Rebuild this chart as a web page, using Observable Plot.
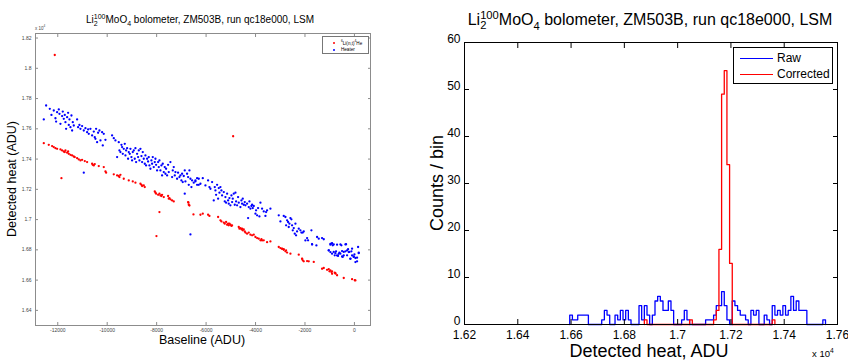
<!DOCTYPE html>
<html><head><meta charset="utf-8">
<script src="https://cdn.jsdelivr.net/npm/d3@7"></script>
<script src="https://cdn.jsdelivr.net/npm/@observablehq/plot@0.6"></script>
<style>
body{margin:0;background:#fff;width:848px;height:360px;overflow:hidden;font-family:"Liberation Sans",Arial,sans-serif;color:#000;}
#wrap{position:relative;width:848px;height:360px;}
.abs{position:absolute;white-space:nowrap;line-height:1;}
.chart{position:absolute;top:0;}
.iso{display:inline-block;position:relative;}
.iso .sp{font-size:0.7em;position:relative;top:-0.55em;}
.iso .sb{font-size:0.7em;position:absolute;left:0;top:0.75em;}
.sb2{font-size:0.7em;position:relative;top:0.45em;}
</style></head><body><div id="wrap"></div>
<script>
// ---------- Left panel: detected heat vs baseline ----------
const heaterPoints = [
[-12470,17754],[-12565,17662],[-12322,17732],[-12255,17692],[-12161,17721],[-12093,17670],[-12066,17648],[-12026,17710],[-11958,17728],[-11931,17699],[-11891,17633],[-11824,17684],[-11797,17714],[-11756,17666],[-11716,17692],[-11689,17644],[-11662,17600],[-11621,17677],[-11581,17706],[-11554,17626],[-11527,17662],[-11487,17611],[-11446,17688],[-11419,17589],[-11392,17644],[-11352,17622],[-11217,17662],[-11177,17611],[-11123,17626],[-11082,17600],[-11015,17618],[-10947,17589],[-10880,17604],[-10813,17578],[-10772,17596],[-10745,17567],[-10678,17600],[-10610,17556],[-10543,17582],[-10503,17545],[-10476,17534],[-10449,17600],[-10408,17512],[-10368,17574],[-10314,17589],[-10273,17523],[-10206,17578],[-10179,17490],[-10139,17567],[-10071,17527],
[-9802,17556],[-9734,17538],[-9667,17523],[-9599,17413],[-9532,17512],[-9505,17457],[-9465,17446],[-9424,17494],[-9397,17479],[-9370,17435],[-9330,17468],[-9289,17501],[-9262,17424],[-9235,17457],[-9195,17472],[-9155,17402],[-9128,17446],[-9087,17435],[-9060,17468],[-9020,17413],[-8993,17391],[-8966,17446],[-8925,17457],[-8885,17402],[-8858,17472],[-8831,17380],[-8791,17435],[-8750,17413],[-8723,17457],[-8696,17391],[-8656,17468],[-8615,17420],[-8588,17380],[-8561,17446],[-8521,17402],[-8480,17369],[-8454,17424],[-8427,17358],[-8386,17402],[-8346,17384],[-8319,17413],[-8292,17358],[-8251,17336],[-8211,17391],[-8184,17369],[-8157,17413],[-8117,17347],[-8076,17380],[-8049,17402],[-8022,17362],[-7982,17325],[-7941,17380],[-7914,17347],[-7887,17391],[-7847,17325],[-7807,17358],[-7780,17292],[-7753,17369],[-7712,17314],[-7672,17347],[-7645,17303],[-7618,17336],[-7577,17292],[-7537,17362],[-7510,17314],[-7443,17380],[-7375,17281],[-7348,17325],[-7308,17347],[-7267,17292],[-7240,17314],[-7173,17270],[-7133,17310],[-7079,17281],[-7038,17292],[-6998,17259],[-6971,17303],[-6944,17248],[-6904,17288],[-6863,17325],[-6836,17252],[-6769,17303],[-6728,17281],[-6701,17230],[-6674,17325],[-6634,17270],[-6593,17215],[-6566,17259],[-6499,17244],[-6432,17252],[-6364,17274],[-6297,17230],[-6229,17237],[-6863,17171],
[-10947,17310],[-6633,16902],
[-6431,17259],[-6364,17230],[-6296,17270],[-6134,17274],[-6027,17226],[-5919,17259],[-5865,17215],[-5824,17204],[-5757,17248],[-5690,17127],[-5649,17215],[-5622,17193],[-5595,17164],[-5555,17230],[-5514,17138],[-5487,17208],[-5460,17178],[-5420,17215],[-5380,17193],[-5353,17160],[-5285,17182],[-5245,17120],[-5218,17149],[-5191,17112],[-5150,17171],[-5110,17127],[-5083,17105],[-5056,17142],[-5016,17094],[-4975,17160],[-4948,17116],[-4921,17138],[-4881,17171],[-4840,17098],[-4813,17178],[-4786,17120],[-4746,17094],[-4706,17149],[-4679,17112],[-4611,17083],[-4571,17127],[-4544,17105],[-4517,17138],[-4476,17098],[-4436,17116],[-4409,17094],[-4342,17105],[-4301,17010],[-4274,17083],[-4247,17120],[-4207,17072],[-4166,17090],[-4139,17098],[-4112,17076],[-4072,17090],[-4005,17039],[-3978,17061],[-3937,17028],[-3897,17076],[-3843,17021],[-3802,17112],[-3735,17072],[-3668,17054],[-3600,17024],[-3573,17050],[-3533,17061],[-3398,17072],[-3061,17028],[-2994,16988],[-2859,17024],[-2791,17017],[-2764,16962],[-2724,16995],[-2684,16984],[-2657,16951],[-2630,16973],[-2589,17010],[-2549,17002],[-2522,16962],[-2495,16929],[-2454,16944],[-2414,16907],[-2387,16973],[-2360,16896],[-2320,16922],[-2252,16940],[-2185,16929],[-2145,16914],[-2090,16914],[-2050,16922],[-1915,16878],[-1875,16863],[-1740,16929],[-1713,16837],[-1511,16885],[-1443,16874],[-1309,16878],[-1241,16870],[-1039,16797],[-972,16834],[-931,16841],[-904,16775],[-877,16830],[-837,16786],[-797,16764],[-743,16790],[-702,16834],[-662,16760],[-608,16782],[-568,16775],[-527,16830],[-473,16753],[-432,16786],[-365,16790],[-338,16837],[-297,16764],[-257,16804],[-203,16786],[-163,16742],[-122,16790],[-95,16808],[-28,16753],[40,16746],[107,16724],[175,16782],[148,16819],
[-1983,16862],[-1713,16836],[-1538,16829],[-972,16840],[-904,16844],[-837,16836],[-1039,16796],[-972,16785],[-770,16778],[-635,16774],[-567,16836],[-500,16792],[-365,16836],[-298,16796],[-230,16785],[-163,16741],[-95,16763],[-28,16756],[0,16770],[40,16719],[174,16778],[107,16748],[-500,16756],[-433,16763],[-702,16763]
];
const neutronPoints = [
[-12565,17505],[-12363,17494],[-12228,17486],[-12161,17479],[-12093,17472],[-12026,17468],[-11891,17464],[-11824,17457],[-11756,17450],[-11716,17446],[-11689,17457],[-11621,17442],[-11581,17450],[-11554,17435],[-11487,17428],[-11419,17424],[-11352,17417],[-11311,17413],[-11217,17406],[-11150,17398],[-11082,17391],[-11015,17395],[-10907,17387],[-10813,17380],[-10610,17369],[-10584,17362],[-10543,17358],[-10503,17367],[-10341,17354],[-10139,17347],[-10071,17318],[-10044,17310],[-9734,17299],[-9599,17292],[-9532,17288],[-9505,17281],[-9465,17296],[-9330,17270],[-9128,17259],[-8966,17252],[-8858,17244],[-8656,17237],[-8615,17230],[-8588,17222],[-8521,17226],[-8480,17215],[-8076,17186],[-8049,17178],[-8022,17171],[-7941,17164],[-7887,17171],[-7847,17160],[-7807,17156],[-7780,17164],[-7712,17149],[-7537,17156],[-7510,17138],[-7483,17142],[-7443,17134],[-7375,17127],[-7308,17120],[-6728,17116],[-6701,17098],[-6714,17112],[-6673,17093],
[-6229,17032],[-6134,17039],[-5919,17032],[-5865,17024],[-5514,17017],[-5420,16995],[-5380,16988],[-5285,16980],[-5245,16973],[-5191,16984],[-5150,16966],[-5110,16973],[-5083,16962],[-5056,16973],[-5016,16966],[-4975,16958],[-4948,16962],[-4679,16951],[-4652,16940],[-4611,16944],[-4571,16936],[-4544,16940],[-4517,16929],[-4476,16936],[-4436,16922],[-4409,16914],[-4342,16907],[-4274,16914],[-4207,16900],[-4139,16896],[-4072,16900],[-4005,16885],[-3937,16878],[-3870,16874],[-3802,16863],[-3762,16870],[-3668,16863],[-3398,16856],[-3061,16819],[-2994,16812],[-2926,16808],[-2859,16804],[-2791,16790],[-2764,16797],[-2724,16782],[-2589,16775],[-2252,16768],[-2117,16742],[-2090,16731],[-2050,16724],[-1848,16724],[-1645,16720],[-1241,16680],[-1039,16672],[-1012,16658],[-972,16665],[-931,16654],[-904,16658],[-797,16650],[-769,16643],[-702,16632],[-432,16614],[-95,16606],[13,16599],
[-3735,16862],[-3533,16851],[-2926,16807],[-2859,16800],[-2117,16741],[-1915,16726],[-1309,16675],[-1107,16668],[-904,16642],[-770,16646],[40,16598],
[-12121,18088],[-4906,17551],[-11851,17274],[-8008,16891],[-7887,17050],[-6511,17034]
];
const baselineTicks = [-12000,-10000,-8000,-6000,-4000,-2000,0];
const heatTicks = [16400,16600,16800,17000,17200,17400,17600,17800,18000,18200];

// ---------- Right panel: histograms ----------
const binStart = 16595;   // left edge of first bin (ADU)
const binWidth = 10;      // ADU per bin
const rawCounts = [2,1,1,2,2,2,2,0,0,0,0,0,1,3,2,0,0,2,1,3,1,3,1,0,0,0,4,1,4,2,0,2,5,6,5,3,3,5,3,0,0,0,1,3,1,0,0,0,0,0,0,1,1,1,2,4,4,7,4,1,0,5,4,3,2,2,1,0,3,2,3,0,0,2,1,0,4,2,3,2,4,2,3,6,3,5,3,3,3,0,0,0,0,0,0,1];
const corrStart = 16875;  // left edge of first corrected bin
const correctedCounts = [1,0,0,0,0,0,0,0,0,0,0,0,0,0,0,0,0,1,0,0,0,0,0,0,0,0,1,3,16,49,54,34,13,0,0,0,0,0,0,0,0,0,0,0,0,0,0,0,1];
const heatAxisTicks = [16200,16400,16600,16800,17000,17200,17400,17600];
const countTicks = [0,10,20,30,40,50,60];

const font = "Liberation Sans, Arial, Helvetica, sans-serif";
const fmt4 = d => String(+(d / 1e4).toFixed(2));
const wrap = document.getElementById("wrap");

const left = Plot.plot({
  width: 400, height: 360,
  marginLeft: 35, marginRight: 30, marginTop: 33, marginBottom: 35,
  x: {domain: [-12900, 650]},
  y: {domain: [16300, 18230]},
  style: {fontFamily: font, fontSize: "5px", background: "transparent", color: "#444"},
  marks: [
    Plot.dot(neutronPoints, {x: d => d[0], y: d => d[1], r: 1.15, fill: "#ff0000"}),
    Plot.dot(heaterPoints, {x: d => d[0], y: d => d[1], r: 1.15, fill: "#0000ff"}),
    Plot.frame({stroke: "#8c8c8c"}),
    Plot.axisX(baselineTicks, {anchor: "bottom", tickSize: -3, fill: "none", stroke: "#8c8c8c", label: null}),
    Plot.axisX(baselineTicks, {anchor: "top", tickSize: -3, fill: "none", stroke: "#8c8c8c", label: null}),
    Plot.axisX(baselineTicks, {anchor: "bottom", tickSize: 0, tickPadding: 3, fill: "#444", label: null, tickFormat: d => String(d)}),
    Plot.axisY(heatTicks, {anchor: "left", tickSize: -3, fill: "none", stroke: "#8c8c8c", label: null}),
    Plot.axisY(heatTicks, {anchor: "right", tickSize: -3, fill: "none", stroke: "#8c8c8c", label: null}),
    Plot.axisY(heatTicks, {anchor: "left", tickSize: 0, tickPadding: 4, fill: "#444", label: null, tickFormat: fmt4})
  ]
});
left.classList.add("chart");
left.style.left = "0px";
wrap.appendChild(left);

function steps(start, width, counts) {
  const pts = [{x: start, y: 0}];
  counts.forEach((c, i) => {
    pts.push({x: start + i * width, y: c});
    pts.push({x: start + (i + 1) * width, y: c});
  });
  pts.push({x: start + counts.length * width, y: 0});
  return pts;
}

const right = Plot.plot({
  width: 448, height: 360,
  marginLeft: 64, marginRight: 11, marginTop: 42, marginBottom: 36,
  x: {domain: [16200, 17600]},
  y: {domain: [0, 60]},
  style: {fontFamily: font, fontSize: "12px", background: "transparent", color: "#000"},
  marks: [
    Plot.line(steps(binStart, binWidth, rawCounts), {x: "x", y: "y", stroke: "#0000ff", strokeWidth: 1.3}),
    Plot.line(steps(corrStart, binWidth, correctedCounts), {x: "x", y: "y", stroke: "#ff0000", strokeWidth: 1.3}),
    Plot.frame({stroke: "#000"}),
    Plot.axisX(heatAxisTicks, {anchor: "bottom", tickSize: -5, fill: "none", stroke: "#000", label: null}),
    Plot.axisX(heatAxisTicks, {anchor: "top", tickSize: -5, fill: "none", stroke: "#000", label: null}),
    Plot.axisX(heatAxisTicks, {anchor: "bottom", tickSize: 0, tickPadding: 5.5, fill: "#000", label: null, tickFormat: fmt4}),
    Plot.axisY(countTicks, {anchor: "left", tickSize: -5, fill: "none", stroke: "#000", label: null}),
    Plot.axisY(countTicks, {anchor: "right", tickSize: -5, fill: "none", stroke: "#000", label: null}),
    Plot.axisY(countTicks, {anchor: "left", tickSize: 0, tickPadding: 4, dy: -3, fill: "#000", label: null, tickFormat: d => String(d)})
  ]
});
right.classList.add("chart");
right.style.left = "400px";
wrap.appendChild(right);

// ---------- Text and legends ----------
function add(html, css) {
  const d = document.createElement("div");
  d.className = "abs";
  d.innerHTML = html;
  Object.assign(d.style, css);
  wrap.appendChild(d);
  return d;
}
const titleHTML = 'Li<span class="iso"><span class="sp">100</span><span class="sb">2</span></span>MoO<span class="sb2">4</span> bolometer, ZM503B, run qc18e000, LSM';
add(titleHTML, {left: "200px", top: "15px", fontSize: "10px", transform: "translateX(-50%)"});
add(titleHTML, {left: "650px", top: "12px", fontSize: "16px", transform: "translateX(-50%)"});

add("Detected heat (ADU)", {left: "12px", top: "179px", fontSize: "12.5px", transform: "translate(-50%,-50%) rotate(-90deg)"});
add("Baseline (ADU)", {left: "202px", top: "340px", fontSize: "12.5px", transform: "translate(-50%,-50%)"});
add('x 10<sup style="font-size:0.7em">4</sup>', {left: "35px", top: "25px", fontSize: "4.5px", color: "#444"});

add("Counts / bin", {left: "437px", top: "183px", fontSize: "18px", transform: "translate(-50%,-50%) rotate(-90deg)"});
add("Detected heat, ADU", {left: "649px", top: "351px", fontSize: "18px", transform: "translate(-50%,-50%)"});
add('x 10<sup style="font-size:0.7em">4</sup>', {left: "812px", top: "348px", fontSize: "9.5px"});

// left legend
add('<div style="position:relative;width:100%;height:100%">' +
  '<span style="position:absolute;left:10px;top:4.5px;width:2px;height:2px;border-radius:1px;background:#f00"></span>' +
  '<span style="position:absolute;left:18px;top:3px;font-size:4.6px"><sup style="font-size:0.7em">6</sup>Li(n,t)<sup style="font-size:0.7em">4</sup>He</span>' +
  '<span style="position:absolute;left:10px;top:12px;width:2px;height:2px;border-radius:1px;background:#00f"></span>' +
  '<span style="position:absolute;left:18px;top:10.5px;font-size:4.6px">Heater</span></div>',
  {left: "322px", top: "36px", width: "45px", height: "16px", border: "1px solid #777", background: "#fff"});

// right legend
add('<div style="position:relative;width:100%;height:100%">' +
  '<span style="position:absolute;left:6px;top:9.5px;width:33px;height:0;border-top:1.3px solid #00f"></span>' +
  '<span style="position:absolute;left:43px;top:4px;font-size:12px">Raw</span>' +
  '<span style="position:absolute;left:6px;top:25.5px;width:33px;height:0;border-top:1.3px solid #f00"></span>' +
  '<span style="position:absolute;left:43px;top:20px;font-size:12px">Corrected</span></div>',
  {left: "733px", top: "47px", width: "98px", height: "35px", border: "1px solid #000", background: "#fff"});
</script></body></html>
